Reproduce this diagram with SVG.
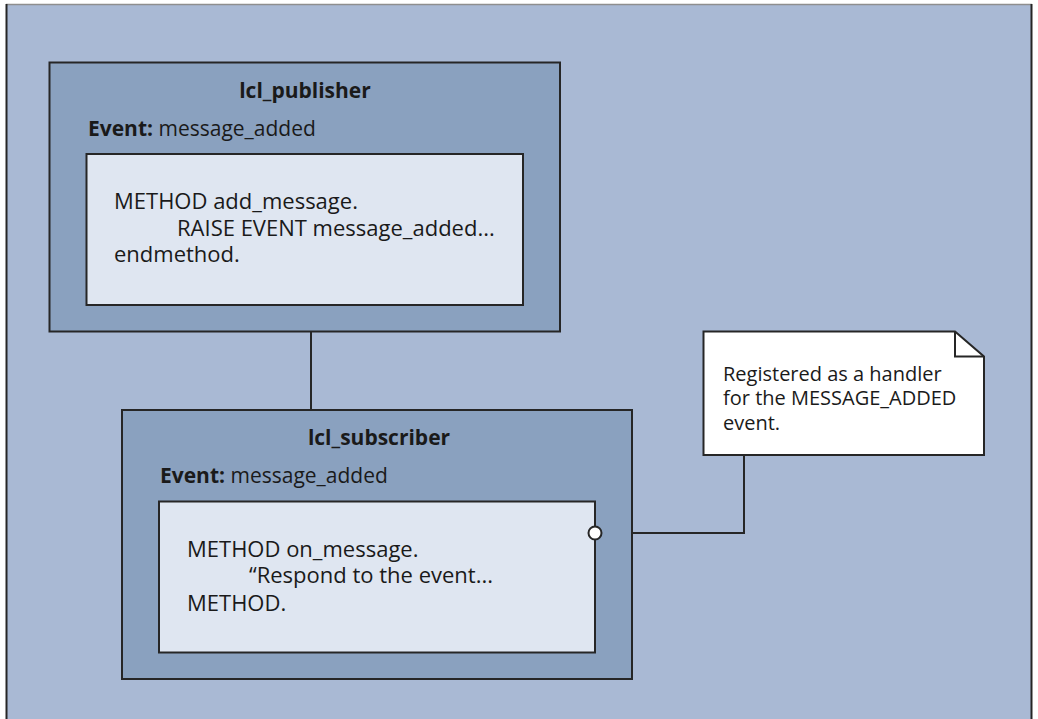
<svg xmlns="http://www.w3.org/2000/svg" width="1038" height="719" viewBox="0 0 1038 719">
  <style>
    text { font-family: "Open Sans", "Noto Sans", "Liberation Sans", sans-serif; font-size: 21px; fill: #1a1a1a; }
    .title { font-weight: bold; text-anchor: middle; }
    .b { font-weight: bold; }
    .code { font-size: 22px; }
    .memo { font-size: 20px; }
    .cls { fill: #8aa1bf; stroke: #262626; stroke-width: 2; }
    .body { fill: #dfe6f1; stroke: #262626; stroke-width: 2; }
    .note { fill: #ffffff; stroke: #262626; stroke-width: 2; stroke-linejoin: miter; }
    .wire { fill: none; stroke: #262626; stroke-width: 2; }
  </style>

  <!-- background panel -->
  <rect x="0" y="0" width="1038" height="719" fill="#ffffff"/>
  <rect x="6" y="4" width="1026" height="720" fill="#a9b9d4"/>
  <line x1="6" y1="4.5" x2="1032" y2="4.5" stroke="#8e8e8e" stroke-width="1.5"/>
  <line x1="6.5" y1="4" x2="6.5" y2="719" stroke="#262626" stroke-width="2"/>
  <line x1="1031.5" y1="4" x2="1031.5" y2="719" stroke="#262626" stroke-width="2"/>

  <!-- connectors -->
  <g id="connectors">
    <line class="wire" x1="311" y1="331.5" x2="311" y2="410"/>
    <polyline class="wire" points="601.5,533 744,533 744,455"/>
  </g>

  <!-- publisher class -->
  <g id="lcl_publisher">
    <rect class="cls" x="49.5" y="62.5" width="510.5" height="269"/>
    <text class="title" x="305" y="98">lcl_publisher</text>
    <text x="88" y="136"><tspan class="b">Event:</tspan> message_added</text>
    <rect class="body" x="86.5" y="154" width="436.5" height="151"/>
    <text class="code" x="114" y="209">METHOD add_message.</text>
    <text class="code" x="177" y="236">RAISE EVENT message_added...</text>
    <text class="code" x="114" y="262">endmethod.</text>
  </g>

  <!-- subscriber class -->
  <g id="lcl_subscriber">
    <rect class="cls" x="122" y="410" width="510" height="269"/>
    <text class="title" x="379" y="445">lcl_subscriber</text>
    <text x="160" y="483"><tspan class="b">Event:</tspan> message_added</text>
    <rect class="body" x="159" y="501.5" width="436" height="151"/>
    <text class="code" x="187" y="557">METHOD on_message.</text>
    <text class="code" x="249" y="583">“Respond to the event...</text>
    <text class="code" x="187" y="611">METHOD.</text>
  </g>

  <!-- handler port on the subscriber method -->
  <g id="handler_port">
    <circle cx="595" cy="533" r="6.5" fill="#ffffff" stroke="#262626" stroke-width="2"/>
  </g>

  <!-- annotation note -->
  <g id="note">
    <path class="note" d="M703.5,331.5 H955 L984,356.5 V455 H703.5 Z"/>
    <path class="wire" d="M955,331.5 V356.5 H984"/>
    <text class="memo" x="723" y="381">Registered as a handler</text>
    <text class="memo" x="723" y="405">for the MESSAGE_ADDED</text>
    <text class="memo" x="723" y="430">event.</text>
  </g>
</svg>
